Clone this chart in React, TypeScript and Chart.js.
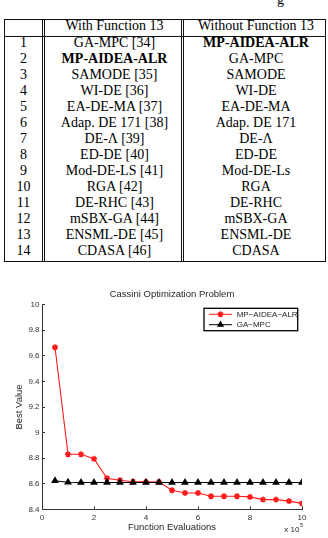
import React, { useEffect, useRef } from "react";
import { Chart, registerables } from "chart.js";

Chart.register(...registerables);

// ---------- table data ----------
const tableHeader = ["", "With Function 13", "Without Function 13"];
const ranks = ["1", "2", "3", "4", "5", "6", "7", "8", "9", "10", "11", "12", "13", "14"];
const withFunction13 = [
  "GA-MPC [34]",
  "MP-AIDEA-ALR",
  "SAMODE [35]",
  "WI-DE [36]",
  "EA-DE-MA [37]",
  "Adap. DE 171 [38]",
  "DE-Λ [39]",
  "ED-DE [40]",
  "Mod-DE-LS [41]",
  "RGA [42]",
  "DE-RHC [43]",
  "mSBX-GA [44]",
  "ENSML-DE [45]",
  "CDASA [46]",
];
const withoutFunction13 = [
  "MP-AIDEA-ALR",
  "GA-MPC",
  "SAMODE",
  "WI-DE",
  "EA-DE-MA",
  "Adap. DE 171",
  "DE-Λ",
  "ED-DE",
  "Mod-DE-Ls",
  "RGA",
  "DE-RHC",
  "mSBX-GA",
  "ENSML-DE",
  "CDASA",
];
const boldEntry = "MP-AIDEA-ALR";

// ---------- chart data ----------
const chartTitle = "Cassini Optimization Problem";
const xAxisTitle = "Function Evaluations";
const yAxisTitle = "Best Value";
const seriesNames = ["MP−AIDEA−ALR", "GA−MPC"];
const evaluations = [0.5, 1, 1.5, 2, 2.5, 3, 3.5, 4, 4.5, 5, 5.5, 6, 6.5, 7, 7.5, 8, 8.5, 9, 9.5, 10];
const mpAideaAlr = [
  9.667, 8.83, 8.83, 8.795, 8.643, 8.627, 8.616, 8.615, 8.614, 8.549,
  8.528, 8.528, 8.502, 8.502, 8.502, 8.497, 8.476, 8.476, 8.464, 8.446,
];
const gaMpc = [
  8.623, 8.612, 8.61, 8.609, 8.609, 8.609, 8.609, 8.609, 8.609, 8.609,
  8.609, 8.609, 8.609, 8.609, 8.609, 8.609, 8.609, 8.609, 8.609, 8.609,
];
const xTicks = [0, 2, 4, 6, 8, 10];
const xTickLabels = ["0", "2", "4", "6", "8", "10"];
const yTicks = [8.4, 8.6, 8.8, 9, 9.2, 9.4, 9.6, 9.8, 10];
const yTickLabels = ["8.4", "8.6", "8.8", "9", "9.2", "9.4", "9.6", "9.8", "10"];
const xExponentBase = "x 10";
const xExponent = "5";

const SANS = '"Liberation Sans", Arial, Helvetica, sans-serif';
const SERIF = '"Liberation Serif", "Times New Roman", Times, serif';
const AXIS = "#333333";
const TEXT = "#262626";

function drawMarker(ctx: CanvasRenderingContext2D, style: string, x: number, y: number, r: number, color: string) {
  ctx.save();
  ctx.fillStyle = color;
  ctx.strokeStyle = color;
  if (style === "triangle") {
    ctx.beginPath();
    ctx.moveTo(x, y - r);
    ctx.lineTo(x + r * 0.866, y + r * 0.5);
    ctx.lineTo(x - r * 0.866, y + r * 0.5);
    ctx.closePath();
    ctx.fill();
  } else {
    ctx.lineWidth = 1.5;
    ctx.beginPath();
    for (let k = 0; k < 4; k++) {
      const a = (k * Math.PI) / 4;
      ctx.moveTo(x - Math.cos(a) * r, y - Math.sin(a) * r);
      ctx.lineTo(x + Math.cos(a) * r, y + Math.sin(a) * r);
    }
    ctx.stroke();
  }
  ctx.restore();
}

const extrasPlugin = {
  id: "matlabExtras",
  afterDraw(chart: any) {
    const { ctx, chartArea } = chart;
    ctx.save();
    // legend box (inside plot, top-right)
    const bw = 93.7;
    const bh = 22.4;
    const bx = chartArea.right - 4.3 - bw;
    const by = chartArea.top + 3.6;
    ctx.fillStyle = "#ffffff";
    ctx.fillRect(bx, by, bw, bh);
    ctx.strokeStyle = "#000000";
    ctx.lineWidth = 1.3;
    ctx.strokeRect(bx, by, bw, bh);
    chart.data.datasets.forEach((ds: any, i: number) => {
      const cy = by + 6 + i * 10.4;
      ctx.strokeStyle = ds.borderColor;
      ctx.lineWidth = 1;
      ctx.beginPath();
      ctx.moveTo(bx + 5, cy);
      ctx.lineTo(bx + 28, cy);
      ctx.stroke();
      drawMarker(ctx, ds.pointStyle, bx + 16.5, cy, ds.pointStyle === "triangle" ? 4.2 : 3, ds.borderColor);
      ctx.fillStyle = TEXT;
      ctx.font = `8px ${SANS}`;
      ctx.textBaseline = "middle";
      ctx.textAlign = "left";
      ctx.fillText(ds.label, bx + 32.7, cy);
    });
    // x 10^5 exponent label
    ctx.fillStyle = TEXT;
    ctx.font = `8px ${SANS}`;
    ctx.textBaseline = "middle";
    ctx.textAlign = "left";
    ctx.fillText(xExponentBase, chartArea.right - 17.7, chart.height - 8.7);
    const w = ctx.measureText(xExponentBase).width;
    ctx.font = `5.5px ${SANS}`;
    ctx.fillText(xExponent, chartArea.right - 17.2 + w, chart.height - 12.5);
    ctx.restore();
  },
};

function CassiniChart() {
  const ref = useRef<HTMLCanvasElement | null>(null);
  useEffect(() => {
    if (!ref.current) return;
    const chart = new Chart(ref.current, {
      type: "line",
      data: {
        datasets: [
          {
            label: seriesNames[0],
            data: evaluations.map((x, i) => ({ x, y: mpAideaAlr[i] })),
            borderColor: "#ff1a1a",
            backgroundColor: "#ff1a1a",
            borderWidth: 1.1,
            pointStyle: "star",
            pointRadius: 3,
            pointBorderWidth: 1.5,
            tension: 0,
            order: 1,
          },
          {
            label: seriesNames[1],
            data: evaluations.map((x, i) => ({ x, y: gaMpc[i] })),
            borderColor: "#000000",
            backgroundColor: "#000000",
            borderWidth: 1.1,
            pointStyle: "triangle",
            pointRadius: 4.5,
            pointBorderWidth: 0,
            tension: 0,
            order: 0,
          },
        ],
      },
      options: {
        animation: false,
        responsive: false,
        maintainAspectRatio: false,
        layout: { padding: { left: 0, right: 26, top: 0, bottom: 0 } },
        plugins: {
          legend: { display: false },
          tooltip: { enabled: false },
          title: {
            display: true,
            text: chartTitle,
            fullSize: false,
            color: TEXT,
            font: { family: SANS, size: 9.5, weight: "normal" },
            padding: { top: 4, bottom: 4.3 },
          },
        },
        scales: {
          x: {
            type: "linear",
            min: 0,
            max: 10,
            afterBuildTicks: (s: any) => {
              s.ticks = xTicks.map((v) => ({ value: v }));
            },
            afterFit: (s: any) => {
              s.height = 28.7;
            },
            ticks: {
              autoSkip: false,
              maxRotation: 0,
              padding: 7,
              color: AXIS,
              font: { family: SANS, size: 8 },
              callback: (_v: any, i: number) => xTickLabels[i],
            },
            grid: { drawOnChartArea: false, tickLength: -3, color: AXIS, lineWidth: 1 },
            border: { color: AXIS, width: 1 },
            title: {
              display: true,
              text: xAxisTitle,
              color: TEXT,
              font: { family: SANS, size: 9.5 },
              padding: { top: 0, bottom: 5 },
            },
          },
          y: {
            type: "linear",
            min: 8.4,
            max: 10,
            afterBuildTicks: (s: any) => {
              s.ticks = yTicks.map((v) => ({ value: v }));
            },
            afterFit: (s: any) => {
              s.width = 42;
            },
            ticks: {
              autoSkip: false,
              padding: 5.5,
              color: AXIS,
              font: { family: SANS, size: 8 },
              callback: (_v: any, i: number) => yTickLabels[i],
            },
            grid: { drawOnChartArea: false, tickLength: -3, color: AXIS, lineWidth: 1 },
            border: { color: AXIS, width: 1 },
            title: {
              display: true,
              text: yAxisTitle,
              color: TEXT,
              font: { family: SANS, size: 9.5 },
              padding: { top: 13.8, bottom: 0 },
            },
          },
        },
      },
      plugins: [extrasPlugin],
    } as any);
    return () => chart.destroy();
  }, []);
  return (
    <canvas
      ref={ref}
      width={328}
      height={253}
      style={{ position: "absolute", left: 0, top: 285, width: 328, height: 253 }}
    />
  );
}

function RankingTable() {
  const cols = [
    { left: 4, width: 39 },
    { left: 45, width: 139 },
    { left: 184, width: 144 },
  ];
  const hLine = (top: number) => (
    <div style={{ position: "absolute", left: 4, width: 322, top, height: 1, background: "#111" }} />
  );
  const vLine = (left: number) => (
    <div style={{ position: "absolute", left, width: 1, top: 19, height: 243, background: "#111" }} />
  );
  const cell = (text: string, col: number, top: number, key: string) => (
    <div
      key={key}
      style={{
        position: "absolute",
        left: cols[col].left,
        width: cols[col].width,
        top,
        height: 16,
        lineHeight: "16px",
        fontSize: 14,
        fontFamily: SERIF,
        textAlign: "center",
        whiteSpace: "nowrap",
        fontWeight: text === boldEntry ? "bold" : "normal",
        color: "#000",
      }}
    >
      {text}
    </div>
  );
  return (
    <>
      {hLine(19)}
      {hLine(36)}
      {hLine(261)}
      {vLine(4)}
      {vLine(42)}
      {vLine(44)}
      {vLine(181)}
      {vLine(183)}
      {vLine(325)}
      {tableHeader.map((h, c) => cell(h, c, 18.1, "h" + c))}
      {ranks.map((r, i) => (
        <React.Fragment key={"r" + i}>
          {cell(r, 0, 34.6 + 16 * i, "a" + i)}
          {cell(withFunction13[i], 1, 34.6 + 16 * i, "b" + i)}
          {cell(withoutFunction13[i], 2, 34.6 + 16 * i, "c" + i)}
        </React.Fragment>
      ))}
    </>
  );
}

export default function App() {
  return (
    <div
      style={{
        position: "absolute",
        left: 0,
        top: 0,
        width: 328,
        height: 538,
        overflow: "hidden",
        background: "#fff",
      }}
    >
      <div
        style={{
          position: "absolute",
          left: 277,
          top: -8,
          fontFamily: SERIF,
          fontSize: 14,
          lineHeight: "16px",
          color: "#000",
        }}
      >
        g
      </div>
      <RankingTable />
      <CassiniChart />
    </div>
  );
}
